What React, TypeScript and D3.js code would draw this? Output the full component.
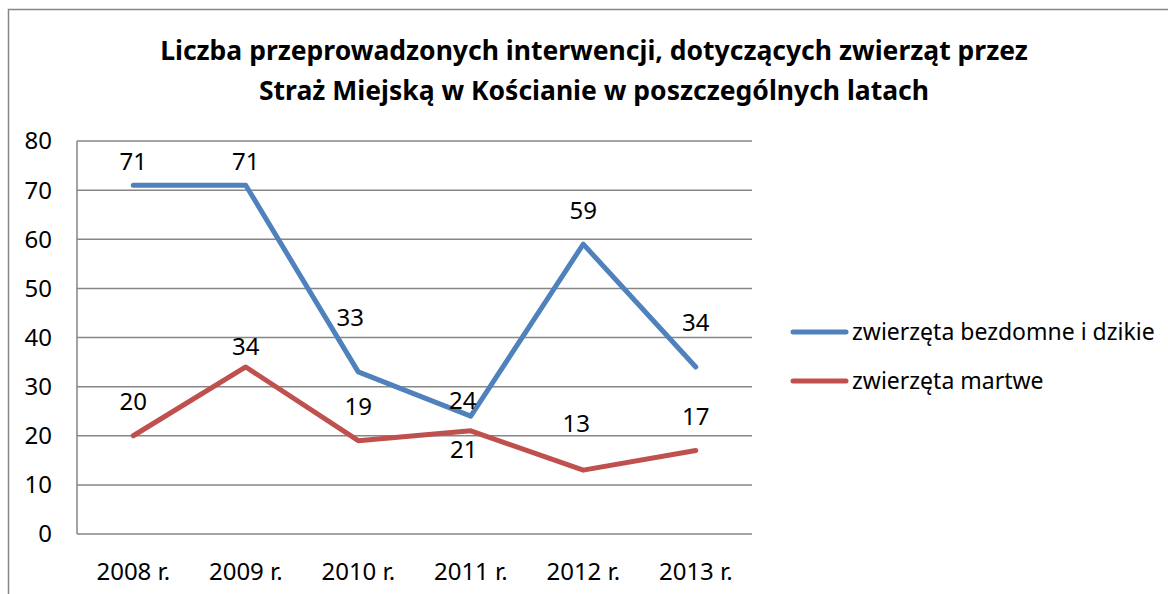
import { useEffect, useRef } from "react";
import * as d3 from "d3";

const years = ["2008 r.", "2009 r.", "2010 r.", "2011 r.", "2012 r.", "2013 r."];
const bezdomne = [71, 71, 33, 24, 59, 34];
const martwe = [20, 34, 19, 21, 13, 17];
const seriesNames = ["zwierzęta bezdomne i dzikie", "zwierzęta martwe"];
const yTicks = [0, 10, 20, 30, 40, 50, 60, 70, 80];
const titleLines = [
  "Liczba przeprowadzonych interwencji, dotyczących zwierząt przez",
  "Straż Miejską w Kościanie w poszczególnych latach",
];

// label nudges (px), kept apart from the values
const labelShift = [
  { dx: [0, 0, -8, -8, 0, 0], dy: [-24, -24, -54, -16, -34, -44] },
  { dx: [0, 0, 0, -7, -7, 0], dy: [-34, -20, -34, 19, -47, -34] },
];

const W = 1168;
const H = 594;
const FONT = "'Noto Sans', 'Open Sans', sans-serif";

const App = () => {
  const svgRef = useRef<SVGSVGElement>(null);

  useEffect(() => {
    const svg = d3.select(svgRef.current);
    svg.selectAll("*").remove();

    const left = 77, right = 752, top = 141, bottom = 534;

    const x = d3.scaleBand().domain(years).range([left, right]);
    const y = d3.scaleLinear().domain([0, 80]).range([bottom, top]);

    svg.append("rect").attr("width", W).attr("height", H).attr("fill", "#fff");

    // outer chart frame
    svg.append("rect")
      .attr("x", 8.5).attr("y", 9.5)
      .attr("width", 1300).attr("height", 800)
      .attr("fill", "none").attr("stroke", "#868686").attr("stroke-width", 1.5);

    // title
    svg.append("g").selectAll("text")
      .data(titleLines)
      .join("text")
      .attr("x", 594)
      .attr("y", (d, i) => 60 + i * 40)
      .attr("text-anchor", "middle")
      .attr("font-family", FONT)
      .attr("font-weight", "bold")
      .attr("font-size", 26.5)
      .attr("fill", "#000")
      .text(d => d);

    // grid
    svg.append("g").selectAll("line")
      .data(yTicks)
      .join("line")
      .attr("x1", left).attr("x2", right)
      .attr("y1", d => y(d)).attr("y2", d => y(d))
      .attr("stroke", "#868686").attr("stroke-width", 1.5);

    svg.append("line")
      .attr("x1", left).attr("x2", left)
      .attr("y1", top).attr("y2", bottom)
      .attr("stroke", "#868686").attr("stroke-width", 1.5);

    // y labels
    svg.append("g").selectAll("text")
      .data(yTicks)
      .join("text")
      .attr("x", 52)
      .attr("y", d => y(d))
      .attr("dy", "0.35em")
      .attr("text-anchor", "end")
      .attr("font-family", FONT)
      .attr("font-size", 24)
      .text(d => d);

    // x labels
    svg.append("g").selectAll("text")
      .data(years)
      .join("text")
      .attr("x", d => x(d)! + x.bandwidth() / 2)
      .attr("y", 572)
      .attr("dy", "0.35em")
      .attr("text-anchor", "middle")
      .attr("font-family", FONT)
      .attr("font-size", 24)
      .text(d => d);

    const colors = ["#4F81BD", "#C0504D"];
    const all = [bezdomne, martwe];
    const cx = (i: number) => x(years[i])! + x.bandwidth() / 2;

    const line = d3.line<number>()
      .x((d, i) => cx(i))
      .y(d => y(d));

    all.forEach((vals, s) => {
      svg.append("path")
        .datum(vals)
        .attr("d", line)
        .attr("fill", "none")
        .attr("stroke", colors[s])
        .attr("stroke-width", 5)
        .attr("stroke-linejoin", "round")
        .attr("stroke-linecap", "round");
    });

    all.forEach((vals, s) => {
      svg.append("g").selectAll("text")
        .data(vals)
        .join("text")
        .attr("x", (d, i) => cx(i) + labelShift[s].dx[i])
        .attr("y", (d, i) => y(d) + labelShift[s].dy[i])
        .attr("dy", "0.35em")
        .attr("text-anchor", "middle")
        .attr("font-family", FONT)
        .attr("font-size", 24)
        .text(d => d);
    });

    // legend
    const lg = svg.append("g").selectAll("g")
      .data(seriesNames)
      .join("g")
      .attr("transform", (d, i) => `translate(793,${332 + i * 49})`);
    lg.append("line")
      .attr("x1", 0).attr("x2", 53)
      .attr("stroke", (d, i) => colors[i])
      .attr("stroke-width", 5)
      .attr("stroke-linecap", "round");
    lg.append("text")
      .attr("x", 59)
      .attr("dy", "0.35em")
      .attr("font-family", FONT)
      .attr("font-size", 23)
      .text(d => d);
  }, []);

  return (
    <svg
      ref={svgRef}
      width={W}
      height={H}
      style={{ position: "absolute", left: 0, top: 0 }}
    />
  );
};

export default App;
